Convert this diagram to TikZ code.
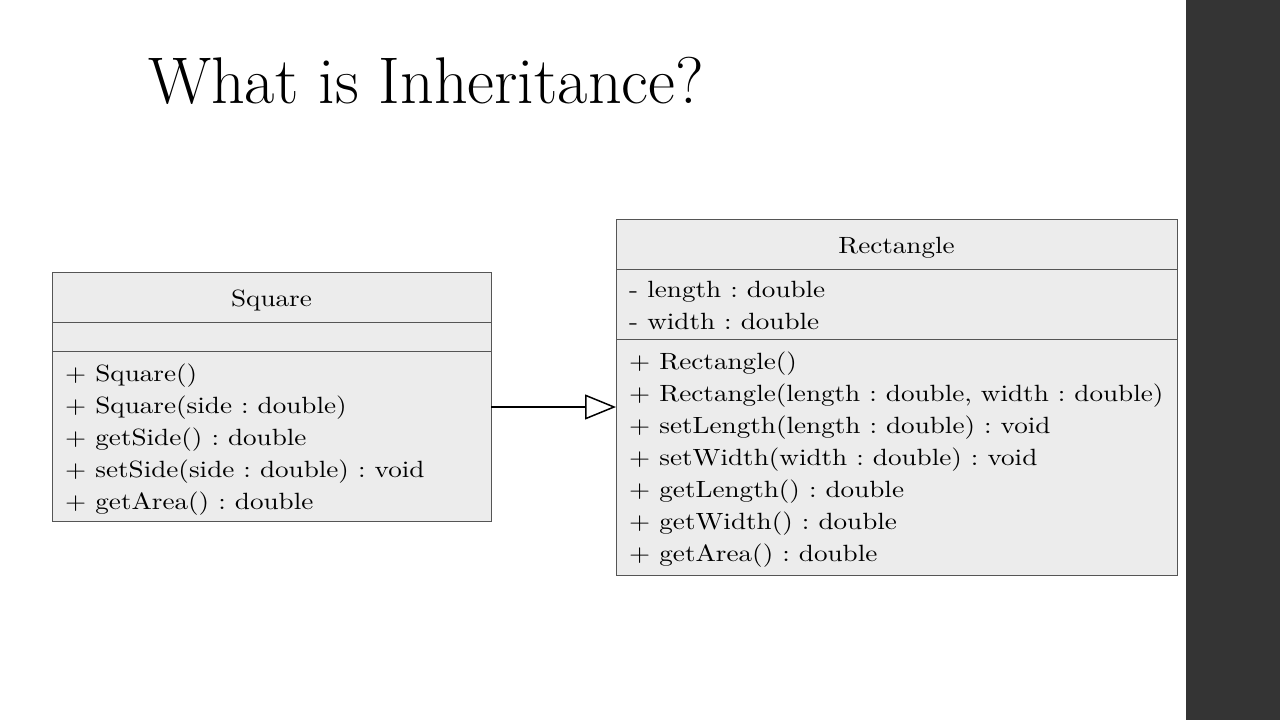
\documentclass[tikz,border=0pt]{standalone}
\usepackage{fontspec}
\setmainfont{lmroman10-regular.otf}
\newfontfamily\titlefont{lmroman17-regular.otf}
\usepackage{tikz}
\usetikzlibrary{
  positioning,
  arrows.meta
}
\frenchspacing
\definecolor{classFill}{RGB}{236,236,236}
\definecolor{classLine}{RGB}{85,85,85}
\definecolor{sideBar}{RGB}{52,52,52}
\tikzset{
  class box/.style={draw=classLine,fill=classFill,line width=1pt,
    inner sep=0pt,outer sep=0pt},
  class text/.style={inner sep=0pt,font=\fontsize{23.5}{32}\selectfont,
    xscale=1.155,transform shape},
  class name/.style={class text,anchor=base},
  class members/.style={class text,align=left,anchor=north west},
  inherits/.style={line width=2pt,-{Triangle[open,length=31pt,width=25pt,line width=1.5pt]}},
}

\begin{document}
\begin{tikzpicture}[x=1pt,y=-1pt]
\useasboundingbox (0,0) rectangle (1280,720);
\fill[sideBar] (1186,0) rectangle (1280,720);
\node[anchor=base west,inner sep=0pt,font=\titlefont\fontsize{66}{72}\selectfont] (title) at (148,103) {What is Inheritance?};
% Square
\node[class box,anchor=north west,minimum width=439pt,minimum height=50pt] (sqHead) at (52,272) {};
\node[class box,below=0pt of sqHead,minimum width=439pt,minimum height=29pt] (sqAttr) {};
\node[class box,below=0pt of sqAttr,minimum width=439pt,minimum height=170pt] (sqMeth) {};
\node[class name] (sqName) at ([yshift=-34pt]sqHead.north) {Square};
\node[class members] (sqMethText) at ([shift={(13pt,-12.4pt)}]sqMeth.north west) {%
  + Square()\\
  + Square(side : double)\\
  + getSide() : double\\
  + setSide(side : double) : void\\
  + getArea() : double};
% Rectangle
\node[class box,anchor=north west,minimum width=561pt,minimum height=50pt] (recHead) at (616,219) {};
\node[class box,below=0pt of recHead,minimum width=561pt,minimum height=70pt] (recAttr) {};
\node[class box,below=0pt of recAttr,minimum width=561pt,minimum height=236pt] (recMeth) {};
\node[class name] (recName) at ([yshift=-34pt]recHead.north) {Rectangle};
\node[class members] (recAttrText) at ([shift={(13pt,-11.7pt)}]recAttr.north west) {%
  - length : double\\
  - width : double};
\node[class members] (recMethText) at ([shift={(13pt,-13pt)}]recMeth.north west) {%
  + Rectangle()\\
  + Rectangle(length : double, width : double)\\
  + setLength(length : double) : void\\
  + setWidth(width : double) : void\\
  + getLength() : double\\
  + getWidth() : double\\
  + getArea() : double};
\draw[inherits] ([yshift=29pt]sqMeth.east) -- ([yshift=29pt]sqMeth.east -| recMeth.west);
\end{tikzpicture}
\end{document}
